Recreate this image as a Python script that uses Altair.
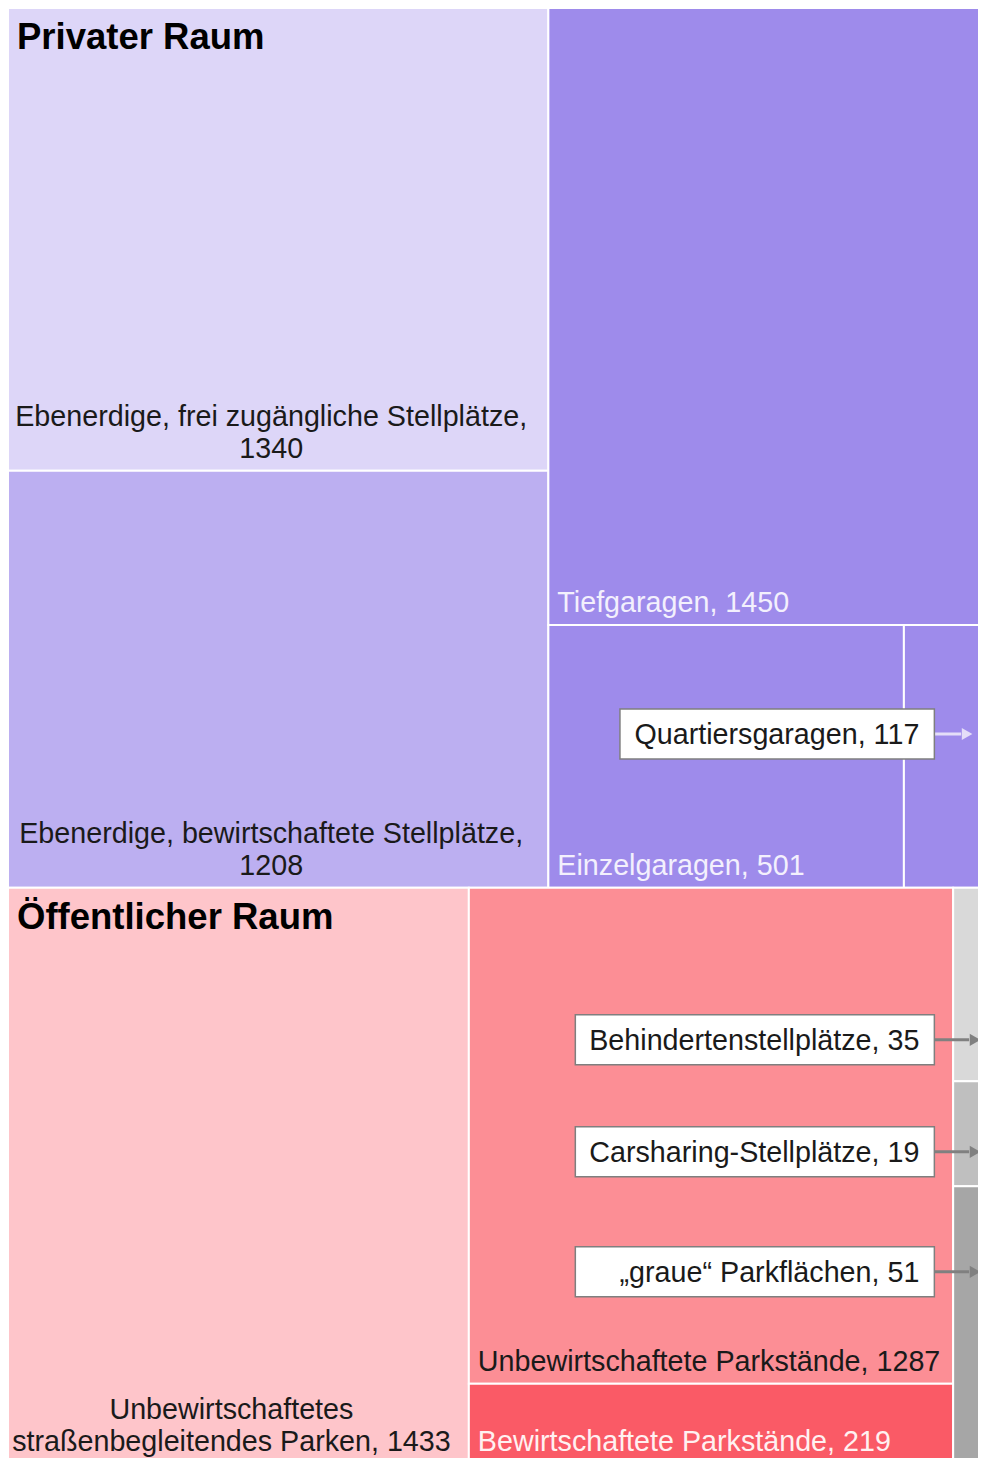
import altair as alt
import pandas as pd

# ---------------- data ----------------
section_names = ["Privater Raum", "Öffentlicher Raum"]

private_names = ["Ebenerdige, frei zugängliche Stellplätze",
                 "Ebenerdige, bewirtschaftete Stellplätze",
                 "Tiefgaragen", "Einzelgaragen", "Quartiersgaragen"]
private_values = [1340, 1208, 1450, 501, 117]
private_colors = ["#DDD6F8", "#BCAFF1", "#9E8BEB", "#9E8BEB", "#9E8BEB"]

public_names = ["Unbewirtschaftetes straßenbegleitendes Parken",
                "Unbewirtschaftete Parkstände", "Bewirtschaftete Parkstände",
                "Behindertenstellplätze", "Carsharing-Stellplätze",
                "„graue“ Parkflächen"]
public_values = [1433, 1287, 219, 35, 19, 51]
public_colors = ["#FEC5CA", "#FC8E95", "#FA5A66", "#D9D9D9", "#BFBFBF", "#A6A6A6"]

# ---------------- treemap layout (slice and dice) ----------------
W, H = 987.0, 1460.0            # full treemap extent (layout units)
SHOWN_W, SHOWN_H = 978, 1450    # part of the treemap that is visible (reference is cropped)
PX_W, PX_H = 970, 1450          # plot size in pixels

pv, uv = private_values, public_values
total = sum(pv) + sum(uv)
ph = H * sum(pv) / total
rects = []

def add(name, value, color, x0, x1, y0, y1):
    rects.append(dict(name=name, value=value, color=color, x0=x0, x1=x1, y0=y0, y1=y1))

# private section
lw = W * (pv[0] + pv[1]) / sum(pv)
h0 = ph * pv[0] / (pv[0] + pv[1])
add(private_names[0], pv[0], private_colors[0], 0, lw, 0, h0)
add(private_names[1], pv[1], private_colors[1], 0, lw, h0, ph)
th = ph * pv[2] / (pv[2] + pv[3] + pv[4])
add(private_names[2], pv[2], private_colors[2], lw, W, 0, th)
ew = (W - lw) * pv[3] / (pv[3] + pv[4])
add(private_names[3], pv[3], private_colors[3], lw, lw + ew, th, ph)
add(private_names[4], pv[4], private_colors[4], lw + ew, W, th, ph)

# public section
c1 = W * uv[0] / sum(uv)
c2 = W * (uv[1] + uv[2]) / sum(uv)
add(public_names[0], uv[0], public_colors[0], 0, c1, ph, H)
h6 = (H - ph) * uv[1] / (uv[1] + uv[2])
add(public_names[1], uv[1], public_colors[1], c1, c1 + c2, ph, ph + h6)
add(public_names[2], uv[2], public_colors[2], c1, c1 + c2, ph + h6, H)
g = uv[3] + uv[4] + uv[5]
yy = ph
for i in (3, 4, 5):
    hh = (H - ph) * uv[i] / g
    add(public_names[i], uv[i], public_colors[i], c1 + c2, W, yy, yy + hh)
    yy += hh

rdf = pd.DataFrame(rects)
R = {r["name"]: r for r in rects}

xs = alt.Scale(domain=[0, SHOWN_W], nice=False, zero=False)
ys = alt.Scale(domain=[0, SHOWN_H], nice=False, zero=False, reverse=True)
X = lambda f: alt.X(f, type="quantitative", scale=xs, axis=None)
Y = lambda f: alt.Y(f, type="quantitative", scale=ys, axis=None)

FONT = "Liberation Sans"
DARK = "#1a1a1a"
FS = 28.7

def label_bottom(n):
    # labels sit above the tile's lower edge, or above the cropped view edge
    return min(R[n]["y1"], SHOWN_H + 6)

tiles = alt.Chart(rdf).mark_rect(stroke="white", strokeWidth=2, clip=True).encode(
    x=X("x0"), x2="x1", y=Y("y0"), y2="y1",
    color=alt.Color("color:N", scale=None),
)

# section headings
hdf = pd.DataFrame({"text": section_names, "x": [0, 0], "y": [0, ph]})
headings = alt.Chart(hdf).mark_text(
    font=FONT, fontSize=36.5, fontWeight="bold", align="left", baseline="alphabetic",
    dx=9, dy=41, color="#000000",
).encode(x=X("x"), y=Y("y"), text="text:N")

# left-aligned labels at the bottom of their tile
left_items = [(private_names[2], "#F3F0FD"), (private_names[3], "#F3F0FD"),
              (public_names[1], DARK), (public_names[2], "#FFF1F1")]
ldf = pd.DataFrame([dict(text=f"{n}, {R[n]['value']}", x=R[n]["x0"], y=label_bottom(n), c=c)
                    for n, c in left_items])
left_labels = alt.Chart(ldf).mark_text(
    font=FONT, fontSize=FS, align="left", baseline="alphabetic", dx=9, dy=-13,
).encode(x=X("x"), y=Y("y"), text="text:N", color=alt.Color("c:N", scale=None))

# centred, wrapped labels (two lines, last baseline 13px above tile bottom)
def wrapped(n):
    v = R[n]["value"]
    if n.startswith("Ebenerdige"):
        return f"{n},\n{v}"
    first, rest = n.split(" ", 1)
    return f"{first}\n{rest}, {v}"

center_items = [private_names[0], private_names[1], public_names[0]]
cdf = pd.DataFrame([dict(text=wrapped(n), x=(R[n]["x0"] + R[n]["x1"]) / 2, y=label_bottom(n))
                    for n in center_items])
center_labels = alt.Chart(cdf).mark_text(
    font=FONT, fontSize=FS, align="center", baseline="alphabetic", dx=-7, dy=-45,
    lineBreak="\n", lineHeight=32, color=DARK,
).encode(x=X("x"), y=Y("y"), text="text:N")

# call-out boxes for the small tiles
# (centre offset from the top of the section, box width, arrow colour, arrow tip)
BOX_RIGHT = W - 53
BOX_H = 50
HEAD = 16
callouts = [
    (private_names[4], 0, 726, 317, "#E4DEF8", W - 12),
    (public_names[3], ph, 152, 362, "#808080", W - 4),
    (public_names[4], ph, 264, 362, "#808080", W - 4),
    (public_names[5], ph, 384, 362, "#808080", W - 4),
]
rows = []
for n, top, off, bw, col, tip in callouts:
    yc = top + off
    rows.append(dict(text=f"{n}, {R[n]['value']}", bx0=BOX_RIGHT - bw, bx1=BOX_RIGHT,
                     by0=yc - BOX_H / 2, by1=yc + BOX_H / 2, yc=yc,
                     ax0=BOX_RIGHT, ax1=tip - HEAD + 2, hx=tip - HEAD / 2, col=col))
odf = pd.DataFrame(rows)

boxes = alt.Chart(odf).mark_rect(fill="white", stroke="#7F7F7F", strokeWidth=1.5).encode(
    x=X("bx0"), x2="bx1", y=Y("by0"), y2="by1")
box_text = alt.Chart(odf).mark_text(
    font=FONT, fontSize=FS, align="right", baseline="alphabetic", dx=-15, dy=10, color=DARK,
).encode(x=X("bx1"), y=Y("yc"), text="text:N")
arrow_line = alt.Chart(odf).mark_rule(strokeWidth=3, clip=True).encode(
    x=X("ax0"), x2="ax1", y=Y("yc"), color=alt.Color("col:N", scale=None))
arrow_head = alt.Chart(odf).mark_point(shape="triangle-right", filled=True, opacity=1,
                                       size=150, clip=True).encode(
    x=X("hx"), y=Y("yc"), color=alt.Color("col:N", scale=None))

chart = alt.layer(
    tiles, headings, left_labels, center_labels, arrow_line, arrow_head, boxes, box_text
).properties(
    width=PX_W, height=PX_H, padding=0, background="white",
    autosize=alt.AutoSizeParams(type="none"),
).configure_view(stroke=None)

chart.save("out.html", embed_options={"renderer": "svg", "actions": False})
